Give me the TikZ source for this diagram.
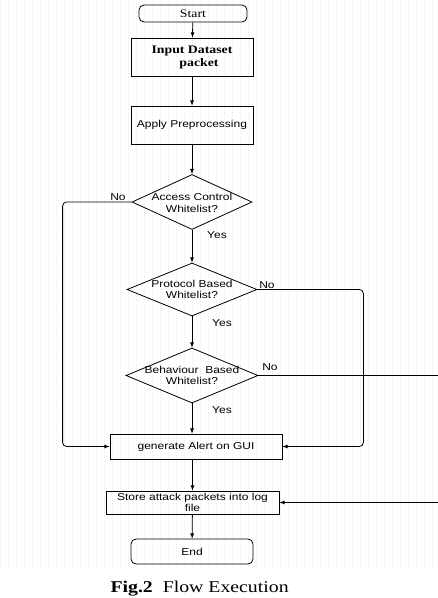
\documentclass[tikz,border=0pt]{standalone}
\usepackage{fontspec}
\setmainfont[FakeStretch=1.2]{Liberation Serif}
\newfontfamily\arialfont[FakeStretch=1.2]{Liberation Sans}
\usetikzlibrary{arrows}
\usetikzlibrary{shapes.geometric}
\tikzset{
  box/.style={draw, line width=0.8, minimum width=122, minimum height=38, inner sep=1, align=center, font=\arialfont\fontsize{10}{12}\selectfont},
  term/.style={draw, line width=0.8, rounded corners=5, minimum width=122, minimum height=25, font=\fontsize{11.5}{13}\selectfont},
  dec/.style={draw, diamond, line width=0.8, inner sep=0},
  txt/.style={align=center, font=\arialfont\fontsize{10}{11.5}\selectfont},
  flow/.style={-latex, line width=0.8},
}

\begin{document}
\begin{tikzpicture}[x=1pt,y=-1pt]
\useasboundingbox (0,0) rectangle (438,598);
\fill[white] (0,0) rectangle (438,598);
\draw[gray!16, dotted, step=8] (0,0) grid (438,568);

\node[term, minimum width=108, minimum height=17] (start) at (193,13.5) {Start};
\node[box, font=\bfseries\fontsize{11.5}{13}\selectfont, xshift=-4] (input) at (196,57) {Input Dataset\\ \hspace*{14pt}packet};
\node[box] (prep) at (192,125) {Apply Preprocessing};
\node[dec, minimum width=120, minimum height=55, label={[txt, yshift=-1]center:{Access Control\\Whitelist?}}] (acc) at (192,202) {};
\node[dec, minimum width=130, minimum height=53, label={[txt]center:{Protocol Based\\Whitelist?}}] (proto) at (192,289.5) {};
\node[dec, minimum width=132, minimum height=55, label={[txt]center:{Behaviour\ \ Based\\Whitelist?}}] (behav) at (192,375.5) {};
\node[box, minimum width=172, minimum height=25] (alert) at (196,446.5) {generate Alert on GUI};
\node[box, minimum width=173, minimum height=23, inner sep=0, font=\arialfont\fontsize{10}{10.5}\selectfont] (store) at (192.5,502.5) {Store attack packets into log\\file};
\node[term, font=\arialfont\fontsize{10}{12}\selectfont] (end) at (192,551.5) {End};
\coordinate (rt) at (445,0);

% yes / no
\node[txt] (no1) at (118,197) {No};
\node[txt] (yes1) at (217,235) {Yes};
\node[txt] (no2) at (267,285) {No};
\node[txt] (yes2) at (222,323) {Yes};
\node[txt] (no3) at (270,367) {No};
\node[txt] (yes3) at (222,410) {Yes};

\draw[flow] (start) -- (input);
\draw[flow] (input) -- (prep);
\draw[flow] (prep) -- (acc);
\draw[flow] (acc) -- (proto);
\draw[flow] (proto) -- (behav);
\draw[flow] (behav.south) -- (behav.south |- alert.north);
\draw[flow] (store.north |- alert.south) -- (store.north);
\draw[flow] (store) -- (end);

\draw[flow, rounded corners=4] (acc.west) -| ([xshift=-47]alert.west) -- (alert.west);
\draw[flow, rounded corners=4] (proto.east) -| ([xshift=81]alert.east) -- (alert.east);
\draw[flow] (behav.east) -| (rt |- store.east) -- (store.east);

\node[anchor=base west, font=\fontsize{16.5}{18}\selectfont] (cap) at (107,592) {\textbf{Fig.2}\ \ Flow Execution};
\end{tikzpicture}
\end{document}
